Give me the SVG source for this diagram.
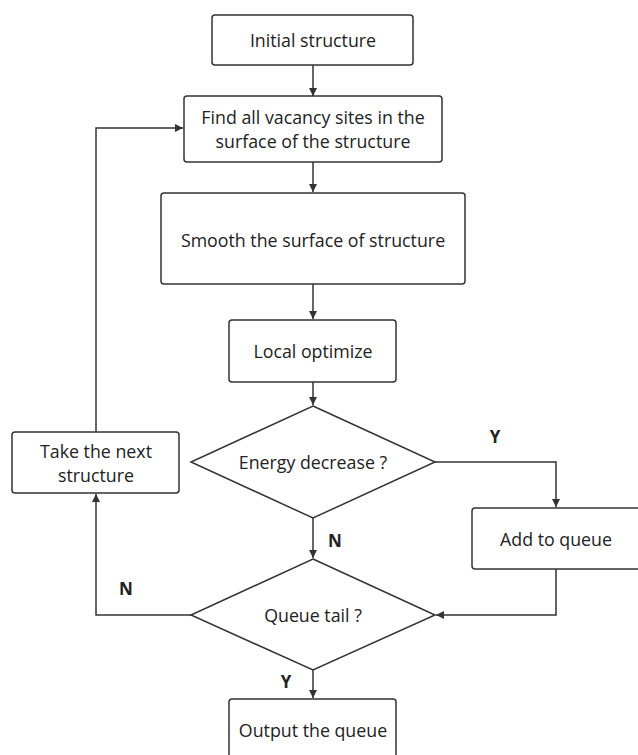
<svg xmlns="http://www.w3.org/2000/svg" width="638" height="755" viewBox="0 0 638 755">
<style>
.b{fill:#fff;stroke:#333;stroke-width:1.5}
.t{font-family:"Open Sans","Noto Sans",sans-serif;font-size:17.8px;fill:#222;text-anchor:middle;dominant-baseline:central}
.l{font-family:"Open Sans","Noto Sans",sans-serif;font-size:17px;font-weight:bold;fill:#222;text-anchor:middle;dominant-baseline:central}
.c{fill:none;stroke:#333;stroke-width:1.5}
</style>
<defs>
<marker id="a" viewBox="0 0 10 10" refX="10" refY="5" markerWidth="8" markerHeight="8" markerUnits="userSpaceOnUse" orient="auto">
<path d="M0,0 L10,5 L0,10 z" fill="#333"/>
</marker>
</defs>
<rect width="638" height="755" fill="#fff"/>
<g id="connectors">
<path class="c" d="M313,65 V96" marker-end="url(#a)"/>
<path class="c" d="M313,162 V192" marker-end="url(#a)"/>
<path class="c" d="M313,284 V319" marker-end="url(#a)"/>
<path class="c" d="M313,382 V405" marker-end="url(#a)"/>
<path class="c" d="M313,518 V558" marker-end="url(#a)"/>
<path class="c" d="M435,462 H556 V507" marker-end="url(#a)"/>
<path class="c" d="M556,569 V615 H436" marker-end="url(#a)"/>
<path class="c" d="M191,615 H96 V494" marker-end="url(#a)"/>
<path class="c" d="M96,432 V128 H183" marker-end="url(#a)"/>
<path class="c" d="M313,670 V698" marker-end="url(#a)"/>
<text class="l" x="495" y="436">Y</text>
<text class="l" x="335" y="540">N</text>
<text class="l" x="126" y="588">N</text>
<text class="l" x="286" y="681">Y</text>
</g>
<g id="initial"><rect class="b" x="212" y="15" width="201" height="50" rx="3"/><text class="t" x="313" y="40">Initial structure</text></g>
<g id="find"><rect class="b" x="184" y="96" width="258" height="66" rx="3"/><text class="t" x="313" y="117">Find all vacancy sites in the</text><text class="t" x="313" y="141">surface of the structure</text></g>
<g id="smooth"><rect class="b" x="161" y="193" width="304" height="91" rx="3"/><text class="t" x="313" y="240">Smooth the surface of structure</text></g>
<g id="local"><rect class="b" x="229" y="320" width="167" height="62" rx="3"/><text class="t" x="313" y="351">Local optimize</text></g>
<g id="energy"><polygon class="b" points="313,406 435,462 313,518 191,462"/><text class="t" x="313" y="462">Energy decrease ?</text></g>
<g id="take"><rect class="b" x="12" y="432" width="167" height="61" rx="3"/><text class="t" x="96" y="451">Take the next</text><text class="t" x="96" y="475">structure</text></g>
<g id="add"><rect class="b" x="472" y="508" width="170" height="61" rx="3"/><text class="t" x="556" y="539">Add to queue</text></g>
<g id="queue"><polygon class="b" points="313,559 435,615 313,670 191,615"/><text class="t" x="313" y="615">Queue tail ?</text></g>
<g id="output"><rect class="b" x="229" y="699" width="167" height="66" rx="3"/><text class="t" x="313" y="730">Output the queue</text></g>
</svg>
